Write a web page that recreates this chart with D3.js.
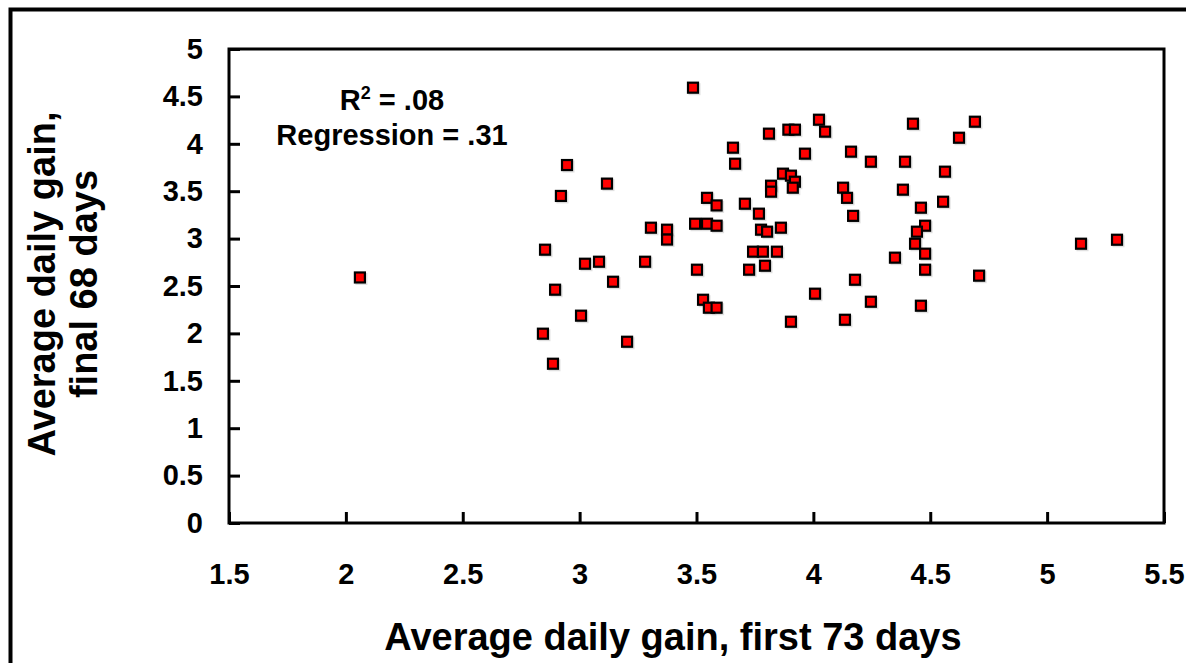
<!DOCTYPE html>
<html>
<head>
<meta charset="utf-8">
<script src="https://cdn.jsdelivr.net/npm/d3@7"></script>
<style>
  html, body { margin: 0; padding: 0; background: #fff; }
  svg { display: block; }
  text { font-family: "Liberation Sans", Arial, Helvetica, sans-serif; font-weight: bold; fill: #000; }
</style>
</head>
<body>
<script>
// ---- data ----
const firstGain = [
  2.06, 2.946, 3.117, 2.92, 3.545, 3.586, 3.305, 3.374, 3.374, 3.494,
  3.545, 3.586, 2.852, 3.023, 3.083, 3.28, 3.143, 3.502, 2.895, 3.528,
  3.553, 3.586, 3.006, 2.843, 3.203, 2.886, 3.485, 4.024, 3.81, 3.893,
  3.921, 4.05, 3.656, 3.964, 4.161, 3.665, 3.87, 3.904, 3.921, 3.912,
  3.819, 3.819, 4.127, 4.144, 4.17, 3.707, 3.767, 3.776, 3.802, 3.861,
  3.742, 3.784, 3.844, 3.725, 3.793, 4.178, 4.007, 3.904, 4.135, 4.426,
  4.691, 4.623, 4.246, 4.392, 4.563, 4.383, 4.555, 4.46, 4.478, 4.443,
  4.435, 4.478, 4.349, 4.478, 4.709, 4.246, 4.46, 5.145, 5.299
];
const finalGain = [
  2.59, 3.776, 3.58, 3.45, 3.43, 3.35, 3.115, 3.094, 2.99, 3.157,
  3.157, 3.136, 2.883, 2.735, 2.756, 2.756, 2.545, 2.672, 2.461, 2.355,
  2.271, 2.271, 2.187, 1.997, 1.912, 1.68, 4.592, 4.254, 4.107, 4.149,
  4.149, 4.128, 3.959, 3.896, 3.917, 3.79, 3.685, 3.664, 3.6, 3.537,
  3.558, 3.495, 3.537, 3.43, 3.24, 3.368, 3.263, 3.094, 3.073, 3.115,
  2.862, 2.862, 2.862, 2.672, 2.714, 2.566, 2.419, 2.123, 2.144, 4.212,
  4.233, 4.064, 3.811, 3.811, 3.706, 3.516, 3.389, 3.326, 3.136, 3.073,
  2.946, 2.841, 2.799, 2.672, 2.609, 2.334, 2.292, 2.946, 2.988
];
const xTicks = [1.5, 2, 2.5, 3, 3.5, 4, 4.5, 5, 5.5];
const yTicks = [0, 0.5, 1, 1.5, 2, 2.5, 3, 3.5, 4, 4.5, 5];
const xTitle = "Average daily gain, first 73 days";
const yTitleLines = ["Average daily gain,", "final 68 days"];
const r2Text = ".08";
const regressionText = "Regression = .31";

// ---- layout ----
const W = 1186, H = 663;
const plot = { left: 229, right: 1164, top: 49, bottom: 523 };

const svg = d3.select("body").append("svg").attr("width", W).attr("height", H);

// outer frame (left & top visible)
svg.append("rect")
  .attr("x", 10.5).attr("y", 9.5).attr("width", 1300).attr("height", 900)
  .attr("fill", "none").attr("stroke", "#000").attr("stroke-width", 4);

const x = d3.scaleLinear().domain([1.5, 5.5]).range([plot.left, plot.right]);
const y = d3.scaleLinear().domain([0, 5]).range([plot.bottom, plot.top]);

// plot frame
svg.append("rect")
  .attr("x", plot.left).attr("y", plot.top)
  .attr("width", plot.right - plot.left).attr("height", plot.bottom - plot.top)
  .attr("fill", "none").attr("stroke", "#000").attr("stroke-width", 3);

const fmt = d => d3.format("")(d);

const xAxis = svg.append("g")
  .attr("transform", `translate(0,${plot.bottom})`)
  .call(d3.axisBottom(x).tickValues(xTicks).tickFormat(fmt)
    .tickSizeInner(-11).tickSizeOuter(0).tickPadding(40));
xAxis.select(".domain").remove();
xAxis.selectAll(".tick line").attr("stroke", "#000").attr("stroke-width", 3);
xAxis.selectAll(".tick text").attr("font-size", 29);

const yAxis = svg.append("g")
  .attr("transform", `translate(${plot.left},0)`)
  .call(d3.axisLeft(y).tickValues(yTicks).tickFormat(fmt)
    .tickSizeInner(-11).tickSizeOuter(0).tickPadding(26));
yAxis.select(".domain").remove();
yAxis.selectAll(".tick line").attr("stroke", "#000").attr("stroke-width", 3);
yAxis.selectAll(".tick text").attr("font-size", 29);
xAxis.attr("font-family", null);
yAxis.attr("font-family", null);

// titles
svg.append("text")
  .attr("x", 673).attr("y", 650)
  .attr("text-anchor", "middle").attr("font-size", 38)
  .text(xTitle);

const yt = svg.append("text")
  .attr("transform", `translate(0,284) rotate(-90)`)
  .attr("text-anchor", "middle").attr("font-size", 38);
yt.append("tspan").attr("x", 0).attr("y", 55).text(yTitleLines[0]);
yt.append("tspan").attr("x", 0).attr("y", 97).text(yTitleLines[1]);

// annotation
const ann = svg.append("text")
  .attr("x", 392).attr("y", 110).attr("text-anchor", "middle").attr("font-size", 29);
ann.append("tspan").text("R");
ann.append("tspan").attr("font-size", 18).attr("dy", -11).text("2");
ann.append("tspan").attr("dy", 11).text(" = " + r2Text);
svg.append("text")
  .attr("x", 392).attr("y", 145).attr("text-anchor", "middle").attr("font-size", 29)
  .text(regressionText);

// points
const pts = firstGain.map((v, i) => ({ x: v, y: finalGain[i] }));
const s = 10;
svg.append("g").selectAll("rect").data(pts).join("rect")
  .attr("x", d => x(d.x) - s / 2 + 1.5).attr("y", d => y(d.y) - s / 2 + 1.5)
  .attr("width", s).attr("height", s)
  .attr("fill", "#bbb").attr("stroke", "#ccc").attr("stroke-width", 2).attr("opacity", 0.6);
svg.append("g").selectAll("rect").data(pts).join("rect")
  .attr("x", d => x(d.x) - s / 2).attr("y", d => y(d.y) - s / 2)
  .attr("width", s).attr("height", s)
  .attr("fill", "#ff0000").attr("stroke", "#000").attr("stroke-width", 2.2);
</script>
</body>
</html>
